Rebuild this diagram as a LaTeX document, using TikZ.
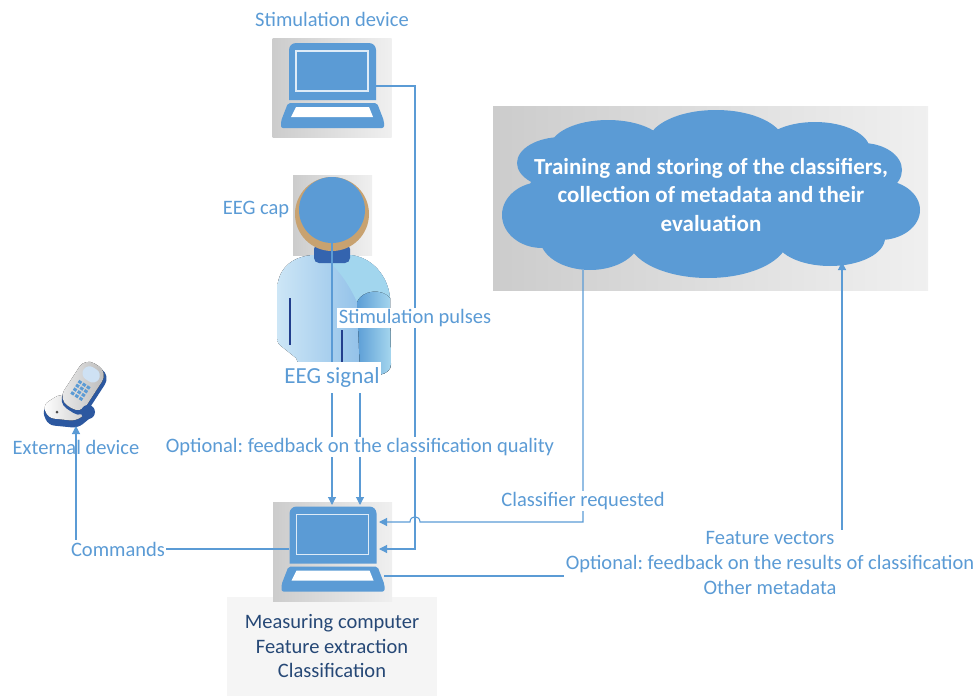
\documentclass[tikz,border=0pt]{standalone}
\usepackage{fontspec}
\setmainfont{Carlito}
\frenchspacing
\usetikzlibrary{arrows.meta}

\definecolor{lblue}{RGB}{91,155,213}
\definecolor{dblue}{RGB}{38,72,118}
\definecolor{navy}{RGB}{34,62,140}
\definecolor{rim}{RGB}{44,88,160}
\definecolor{skin}{RGB}{200,162,112}
\definecolor{neck}{RGB}{52,100,175}
\definecolor{bodyl}{RGB}{205,230,246}
\definecolor{bodyr}{RGB}{125,180,228}
\definecolor{shoulder}{RGB}{162,214,238}
\definecolor{armd}{RGB}{92,158,214}
\definecolor{arml}{RGB}{165,214,238}

\tikzset{
  lbl/.style={text=lblue, font=\fontsize{20.5}{25}\selectfont, inner sep=1.5pt},
  wlbl/.style={lbl, fill=white},
  conn/.style={draw=lblue, line width=1.1pt},
  arr/.style={conn, -{Triangle[length=8pt,width=8pt]}},
  greybox/.style={inner sep=0pt, left color=gray!40, right color=gray!12},
}

% laptop icon on a grey square, #1 = node name, #2 = centre
\newcommand\laptop[2]{%
  \node[greybox, minimum width=119pt, minimum height=99pt] (#1) at (#2) {};
  \begin{scope}[shift={(#2)}]
    \fill[lblue] (-43,12) [rounded corners=7pt] -- (-43,-45) -- (44,-45) [sharp corners] -- (44,12) -- cycle;
    \draw[white!80!lblue, line width=1.2pt] (-36,-37) rectangle (36,3);
    \fill[lblue, rounded corners=2pt] (-44,15) -- (45,15) -- (52,33) -- (52,40) -- (-51,40) -- (-51,33) -- cycle;
    \fill[white] (-36,19) -- (37,19) -- (41,29) -- (-41,29) -- cycle;
  \end{scope}}

\begin{document}
\begin{tikzpicture}[x=1pt, y=-1pt]
  \useasboundingbox (0,0) rectangle (978,696);

  % the two computers
  \laptop{stim}{332,88}
  \node[fill=gray!8, minimum width=210pt, minimum height=99pt, text=dblue, align=center,
        font=\fontsize{20.5}{24.5}\selectfont] (meastxt) at (332,646.5)
        {Measuring computer\\Feature extraction\\Classification};
  \laptop{meas}{332.5,551.5}

  % person wearing the cap
  \node[greybox, minimum width=79pt, minimum height=80pt] (capbox) at (332.5,215) {};
  \fill[left color=bodyl, right color=bodyr]
    (277,292) .. controls (277,268) and (292,257) .. (312,255) -- (350,255)
    .. controls (372,257) and (388,276) .. (390,298) -- (391,364)
    .. controls (391,376) and (372,378) .. (360,372) -- (302,372) -- (296,358)
    -- (281,346) .. controls (277,343) and (277,340) .. (277,334) -- cycle;
  \fill[shoulder] (322,256) -- (350,255) .. controls (372,257) and (388,276) .. (390,298)
    .. controls (380,288) and (362,292) .. (357,302) .. controls (348,282) and (336,266) .. (322,256) -- cycle;
  \fill[left color=armd, right color=arml] (357,302) .. controls (362,290) and (382,288) .. (390,298)
    -- (391,364) .. controls (391,376) and (372,378) .. (360,372) -- cycle;
  \fill[neck, rounded corners=5pt] (314,244) rectangle (350,263);
  \fill[skin] (332,214) circle[radius=37];
  \node[circle, fill=lblue, minimum size=66pt, inner sep=0pt] (head) at (332,210) {};
  \draw[navy, line width=1.2pt] (290,298) -- (290,345) (342,330) -- (342,362);

  % external device
  \fill[rim, rounded corners=6pt] (42,410) -- (60,397) -- (90,404) -- (95,414) -- (78,428) -- (48,425) -- cycle;
  \fill[left color=white, right color=gray!45, rounded corners=6pt] (43,405) -- (60,394) -- (88,400) -- (92,409) -- (76,421) -- (48,418) -- cycle;
  \fill[black!70] (57,412) circle[radius=1.5];
  \begin{scope}[shift={(83,387)}, rotate=-33]
    \fill[rim, rounded corners=11pt] (-13,-25) rectangle (17,27);
    \fill[left color=gray!15, right color=gray!55, rounded corners=11pt] (-14,-26) rectangle (13,24);
    \fill[white!70!lblue, rounded corners=7pt] (-9,-22) rectangle (9,-8);
    \foreach \i in {0,1,2} \foreach \j in {0,1,2,3}
      \fill[lblue] (-7+\i*5,-4+\j*4.5) rectangle +(3.5,3);
  \end{scope}
  \fill[rim] (88,412) circle[radius=7];

  % classifier storage
  \node[greybox, minimum width=435pt, minimum height=184pt] (cloudbg) at (710.5,198) {};
  \fill[lblue] \foreach \c/\rx/\ry in {{712,195}/185/62, {542,215}/40/33, {562,163}/45/26,
      {608,148}/58/28, {716,143}/68/33, {815,150}/55/28, {862,170}/40/27, {880,210}/40/30,
      {830,238}/55/28, {708,238}/80/40, {590,238}/50/32}
    {(\c) ellipse[x radius=\rx, y radius=\ry]};
  \node[text=white, align=center, font=\bfseries\fontsize{23}{28.5}\selectfont] (cloudtxt) at (711,194.5)
    {Training and storing of the classifiers,\\collection of metadata and their\\evaluation};

  % ends of the connectors
  \coordinate (stimout) at (376,86);
  \coordinate (eegin) at (332,505);
  \coordinate (fbin) at (360,505);
  \coordinate (clsin) at (379,522);
  \coordinate (stimin) at (379,549);
  \coordinate (cmdout) at (289,549);
  \coordinate (featout) at (384,576);
  \coordinate (clsout) at (583,270);
  \coordinate (featin) at (842,262);
  \coordinate (extin) at (76,426);
  \coordinate (jump) at (415,522);
  \coordinate (pulses) at (415,318);
  \coordinate (eegsig) at (332,377);

  \draw[arr] (head) -- (eegin);
  \draw[arr] (fbin |- eegsig) -- (fbin);
  \draw[arr] (stimout) -| (pulses) |- (stimin);
  \draw[arr] (clsout) |- ([xshift=5pt]jump) .. controls +(0,-7) and +(0,-7) .. ([xshift=-5pt]jump) -- (clsin);
  \draw[arr] (featout) -| (featin);
  \draw[arr] (cmdout) -| (extin);

  % labels
  \node[lbl] (stimlbl) at (332,19) {Stimulation device};
  \node[lbl] (caplbl) at (256,209) {EEG cap};
  \node[wlbl] (pulseslbl) at (pulses) {Stimulation pulses};
  \node[wlbl, font=\fontsize{23}{27}\selectfont, minimum width=98pt, minimum height=31pt] (eeglbl) at (eegsig) {EEG signal};
  \node[lbl] (extlbl) at (76,447) {External device};
  \node[wlbl] (fblbl) at (360,447) {Optional: feedback on the classification quality};
  \node[wlbl] (clslbl) at (583,501) {Classifier requested};
  \node[wlbl] (cmdlbl) at (118,549) {Commands};
  \node[wlbl, align=center] (featlbl) at (770,563)
    {Feature vectors\\Optional: feedback on the results of classification\\Other metadata};
\end{tikzpicture}
\end{document}
